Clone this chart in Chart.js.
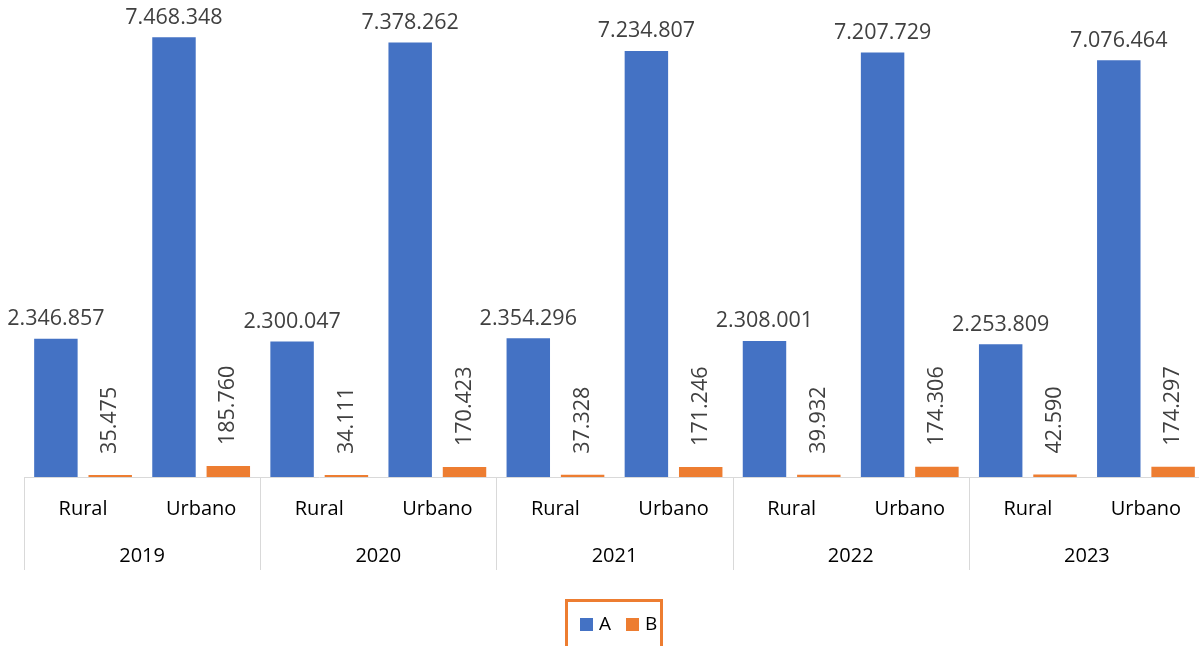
<!DOCTYPE html>
<html lang="pt">
<head>
<meta charset="UTF-8">
<title>Rural x Urbano</title>
<script src="https://cdn.jsdelivr.net/npm/chart.js"></script>
<style>
  html, body { margin: 0; padding: 0; background: #fff; overflow: hidden; }
  #box { width: 1205px; height: 646px; }
</style>
</head>
<body>
<div id="box"><canvas id="grafico"></canvas></div>
<script>
// dados
var anos = ['2019', '2020', '2021', '2022', '2023'];
var zonas = ['Rural', 'Urbano'];
var serieA = [2346857, 7468348, 2300047, 7378262, 2354296, 7234807, 2308001, 7207729, 2253809, 7076464];
var serieB = [35475, 185760, 34111, 170423, 37328, 171246, 39932, 174306, 42590, 174297];
var nomesSeries = ['A', 'B'];
var cores = ['#4472C4', '#ED7D31'];

var rotulos = [];
for (var i = 0; i < anos.length; i++) {
  for (var j = 0; j < zonas.length; j++) rotulos.push(zonas[j]);
}

var fonte = "'Open Sans', 'Liberation Sans', sans-serif";
var alturaEixo = 93;

function formatar(v) {
  return String(v).replace(/\B(?=(\d{3})+(?!\d))/g, '.');
}

// rotulos de dados em cima das barras
var pluginRotulos = {
  id: 'rotulos',
  afterDatasetsDraw: function (chart) {
    var ctx = chart.ctx;
    ctx.save();
    ctx.fillStyle = '#404040';
    ctx.font = '21.5px ' + fonte;
    chart.data.datasets.forEach(function (ds, d) {
      var meta = chart.getDatasetMeta(d);
      meta.data.forEach(function (barra, k) {
        var txt = formatar(ds.data[k]);
        if (d === 0) {
          ctx.textAlign = 'center';
          ctx.textBaseline = 'bottom';
          ctx.fillText(txt, barra.x, barra.y - 9);
        } else {
          ctx.save();
          ctx.translate(barra.x, barra.y - 21);
          ctx.rotate(-Math.PI / 2);
          ctx.textAlign = 'left';
          ctx.textBaseline = 'middle';
          ctx.fillText(txt, 0, 0);
          ctx.restore();
        }
      });
    });
    ctx.restore();
  }
};

// eixo hierarquico (anos) + legenda com borda
var pluginEixo = {
  id: 'eixoAnos',
  afterDraw: function (chart) {
    var ctx = chart.ctx;
    var x = chart.scales.x;
    var area = chart.chartArea;
    var meia = (x.getPixelForValue(1) - x.getPixelForValue(0)) / 2;
    ctx.save();
    ctx.strokeStyle = '#D9D9D9';
    ctx.lineWidth = 1;
    for (var i = 0; i <= anos.length; i++) {
      var px = i < anos.length ? x.getPixelForValue(i * 2) - meia : x.getPixelForValue(anos.length * 2 - 1) + meia;
      px = Math.round(px) + 0.5;
      ctx.beginPath();
      ctx.moveTo(px, area.bottom);
      ctx.lineTo(px, area.bottom + alturaEixo);
      ctx.stroke();
    }
    ctx.fillStyle = '#000';
    ctx.font = '20px ' + fonte;
    ctx.textAlign = 'center';
    ctx.textBaseline = 'middle';
    for (var a = 0; a < anos.length; a++) {
      var cx = (x.getPixelForValue(a * 2) + x.getPixelForValue(a * 2 + 1)) / 2;
      ctx.fillText(anos[a], cx, area.bottom + 79);
    }

    // legenda
    ctx.strokeStyle = '#ED7D31';
    ctx.lineWidth = 3;
    ctx.strokeRect(566.5, 600.5, 95, 60);
    ctx.font = '19px ' + fonte;
    ctx.textAlign = 'left';
    var lx = [580, 626];
    for (var s = 0; s < nomesSeries.length; s++) {
      ctx.fillStyle = cores[s];
      ctx.fillRect(lx[s], 618, 13, 13);
      ctx.fillStyle = '#000';
      ctx.fillText(nomesSeries[s], lx[s] + 19, 625);
    }
    ctx.restore();
  }
};

var ctxGrafico = document.getElementById('grafico').getContext('2d');
var grafico = new Chart(ctxGrafico, {
  type: 'bar',
  data: {
    labels: rotulos,
    datasets: [
      { label: nomesSeries[0], data: serieA, backgroundColor: cores[0] },
      { label: nomesSeries[1], data: serieB, backgroundColor: cores[1] }
    ]
  },
  options: {
    responsive: true,
    maintainAspectRatio: false,
    animation: false,
    categoryPercentage: 0.92,
    barPercentage: 0.8,
    layout: { padding: { left: 24, right: 0, top: 0, bottom: 76 } },
    plugins: {
      legend: { display: false },
      tooltip: { enabled: false }
    },
    scales: {
      x: {
        grid: { display: false },
        border: { display: true, color: '#D9D9D9', width: 1 },
        ticks: { color: '#000', font: { family: fonte, size: 20 }, padding: 12, maxRotation: 0, autoSkip: false },
        afterFit: function (scale) { scale.height = alturaEixo; }
      },
      y: {
        display: false,
        min: 0,
        max: 8100000
      }
    }
  },
  plugins: [pluginRotulos, pluginEixo]
});
</script>
</body>
</html>
